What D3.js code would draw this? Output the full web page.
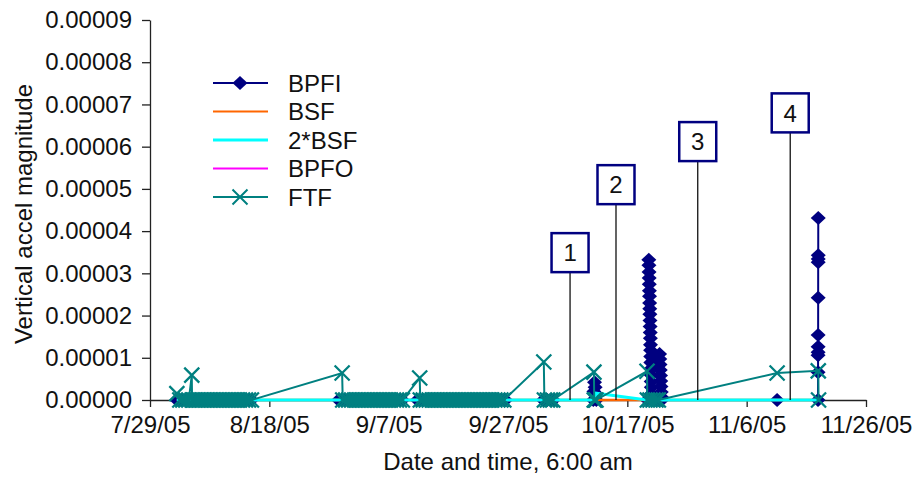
<!DOCTYPE html>
<html>
<head>
<meta charset="utf-8">
<script src="https://cdn.jsdelivr.net/npm/d3@7"></script>
<style>
body{margin:0;background:#fff;}
svg{display:block;font-family:"Liberation Sans",Arial,sans-serif;}
</style>
</head>
<body>
<svg width="912" height="478"></svg>
<script>
// all sample times are days after 7/29/05 (the left end of the axis)
const tickLabels=["7/29/05","8/18/05","9/7/05","9/27/05","10/17/05","11/6/05","11/26/05"];
const tickDays=[0,20,40,60,80,100,120];
const yTicks=[0,0.00001,0.00002,0.00003,0.00004,0.00005,0.00006,0.00007,0.00008,0.00009];

const seriesNames=["BPFI","BSF","2*BSF","BPFO","FTF"];
const seriesColors=["#000080","#ff6600","#00ffff","#ff00ff","#008080"];

const bpfiDays=[
 4.5,5,5.5,6,6.5,7,7.5,8,8.5,9,9.5,10,10.5,11,11.5,12,12.5,13,13.5,14,14.5,15,15.5,16,16.5,17,
 31.6,32.3,32.8,33.3,33.8,34.3,34.8,35.3,35.8,36.3,36.8,37.3,37.8,38.3,38.8,39.3,39.8,40.3,40.8,41.3,41.8,42.3,
 44.8,45.3,45.8,46.3,46.8,47.3,47.8,48.3,48.8,49.3,49.8,50.3,50.8,51.3,51.8,52.3,52.8,53.3,53.8,54.3,54.8,55.3,55.8,56.3,56.8,57.3,57.8,58.3,58.8,59.3,59.6,
 65.9,66.1,66.6,67.1,67.6,
 74.3,74.4,74.5,74.6,74.7,74.8,
 83.35,83.6,83.62,83.64,83.66,83.68,83.7,83.72,83.74,83.76,83.78,83.8,83.82,83.84,83.86,83.88,83.9,83.92,83.94,83.96,83.98,84.0,84.02,84.04,
 84.3,84.8,85.2,85.4,85.44,85.48,85.52,85.56,85.6,85.64,85.68,85.72,85.76,
 105.1,
 111.96,111.964,111.968,111.972,111.976,111.98,111.984,111.988,111.992,111.996,112
];
const bpfiValues=[
 0,0,0,0,0,0,0,0,0,0,0,0,0,0,0,0,0,0,0,0,0,0,0,0,0,0,
 0,0,0,0,0,0,0,0,0,0,0,0,0,0,0,0,0,0,0,0,0,0,
 0,0,0,0,0,0,0,0,0,0,0,0,0,0,0,0,0,0,0,0,0,0,0,0,0,0,0,0,0,0,0,
 0,0,0,0,0,
 0,0.0000020,0.0000042,0.0000030,0.0000012,0,
 0,0.0000332,0.0000319,0.0000303,0.0000289,0.0000274,0.0000259,0.0000246,0.0000230,0.0000216,0.0000203,0.0000188,0.0000174,0.0000160,0.0000146,0.0000131,0.0000118,0.0000103,0.0000089,0.0000074,0.0000059,0.0000044,0.0000030,0.0000015,
 0,0,0,0.0000109,0.0000097,0.0000084,0.0000071,0.0000058,0.0000045,0.0000032,0.0000019,0.0000007,0,
 0,
 0,0.0000066,0.0000106,0.0000113,0.0000126,0.0000154,0.0000242,0.0000326,0.0000334,0.0000343,0.0000431
];

const ftfDays=[
 4.5,5,5.5,6,6.5,7,7.05,7.5,8,8.5,9,9.5,10,10.5,11,11.5,12,12.5,13,13.5,14,14.5,15,15.5,16,16.5,17,
 32.2,32.3,32.8,33.3,33.8,34.3,34.8,35.3,35.8,36.3,36.8,37.3,37.8,38.3,38.8,39.3,39.8,40.3,40.8,41.3,41.8,42.3,
 45.2,45.3,45.8,46.3,46.8,47.3,47.8,48.3,48.8,49.3,49.8,50.3,50.8,51.3,51.8,52.3,52.8,53.3,53.8,54.3,54.8,55.3,55.8,56.3,56.8,57.3,57.8,58.3,58.8,59.3,
 66,66.1,66.6,67.1,67.5,
 74.4,74.45,74.6,74.75,
 83.3,83.35,83.8,84.3,84.8,85.2,
 105.1,112,112.05
];
const ftfValues=[
 0.0000015,0,0,0,0,0.0000059,0,0,0,0,0,0,0,0,0,0,0,0,0,0,0,0,0,0,0,0,0,
 0.0000064,0,0,0,0,0,0,0,0,0,0,0,0,0,0,0,0,0,0,0,0,0,
 0.0000052,0,0,0,0,0,0,0,0,0,0,0,0,0,0,0,0,0,0,0,0,0,0,0,0,0,0,0,0,0,
 0.0000090,0,0,0,0,
 0.0000066,0,0,0,
 0.0000068,0,0,0,0,0,
 0.0000064,0.0000069,0
];

// line-only series, flat at zero apart from the small 2*BSF rise
const bsfDays=[4.5,112];
const bsfValues=[0,0];
const bsf2Days=[4.5,74.7,74.8,83.3,112];
const bsf2Values=[0,0,0.0000016,0,0];
const bpfoDays=[4.5,112];
const bpfoValues=[0,0];

const noteLabels=["1","2","3","4"];
const noteDays=[70.4,78.1,91.8,107.3];
const noteValues=[0.0000349,0.0000510,0.0000612,0.0000680];

const svg=d3.select("svg");
const origin=Date.UTC(2005,6,29);
const toDate=d=>new Date(origin+d*864e5);
const fs="24px";

const x=d3.scaleUtc().domain([toDate(0),toDate(120)]).range([150,866]);
const y=d3.scaleLinear().domain([0,0.00009]).range([400,20]);

const xAxis=svg.append("g").attr("transform","translate(0,400)")
  .call(d3.axisBottom(x).tickValues(tickDays.map(toDate)).tickFormat((d,i)=>tickLabels[i])
    .tickSizeInner(7).tickSizeOuter(0).tickPadding(9));
const yAxis=svg.append("g").attr("transform","translate(150,0)")
  .call(d3.axisLeft(y).tickValues(yTicks).tickFormat(d3.format(".5f"))
    .tickSizeInner(8).tickSizeOuter(0).tickPadding(10));
[xAxis,yAxis].forEach(a=>{
  a.selectAll("path,line").attr("stroke","#222").attr("stroke-width",1.3);
  a.selectAll("text").attr("font-size",fs).attr("fill","#111").attr("font-family","Liberation Sans, Arial, sans-serif");
});

svg.append("text").attr("x",508).attr("y",470).attr("text-anchor","middle")
  .attr("font-size",fs).attr("fill","#111").text("Date and time, 6:00 am");
svg.append("text").attr("transform","translate(32,214) rotate(-90)").attr("text-anchor","middle")
  .attr("font-size",fs).attr("fill","#111").text("Vertical accel magnitude");

const diamond="M0,-7L7.5,0L0,7L-7.5,0Z";
const cross="M-7.5,-7.5L7.5,7.5M7.5,-7.5L-7.5,7.5";
const line=d3.line().x(d=>x(toDate(d[0]))).y(d=>y(d[1]));
const pairs=(ds,vs)=>ds.map((d,i)=>[d,vs[i]]);

const bpfi=pairs(bpfiDays,bpfiValues);
const ftf=pairs(ftfDays,ftfValues);

// BPFI
svg.append("path").datum(bpfi).attr("d",line).attr("fill","none")
  .attr("stroke",seriesColors[0]).attr("stroke-width",2);
svg.append("g").selectAll("path").data(bpfi).join("path")
  .attr("transform",d=>`translate(${x(toDate(d[0]))},${y(d[1])})`)
  .attr("d",diamond).attr("fill",seriesColors[0]);

// BPFO, BSF, 2*BSF
svg.append("path").datum(pairs(bpfoDays,bpfoValues)).attr("d",line).attr("fill","none")
  .attr("stroke",seriesColors[3]).attr("stroke-width",2);
svg.append("path").datum(pairs(bsfDays,bsfValues)).attr("d",line).attr("fill","none")
  .attr("stroke",seriesColors[1]).attr("stroke-width",2.5);
svg.append("path").datum(pairs(bsf2Days,bsf2Values)).attr("d",line).attr("fill","none")
  .attr("stroke",seriesColors[2]).attr("stroke-width",3);

// FTF
svg.append("path").datum(ftf).attr("d",line).attr("fill","none")
  .attr("stroke",seriesColors[4]).attr("stroke-width",2);
svg.append("g").selectAll("path").data(ftf).join("path")
  .attr("transform",d=>`translate(${x(toDate(d[0]))},${y(d[1])})`)
  .attr("d",cross).attr("fill","none").attr("stroke",seriesColors[4]).attr("stroke-width",2.3);

// numbered callouts
const notes=svg.append("g").selectAll("g").data(noteLabels).join("g")
  .attr("transform",(d,i)=>`translate(${x(toDate(noteDays[i]))},${y(noteValues[i])})`);
notes.append("line").attr("x1",0).attr("x2",0).attr("y1",19.5)
  .attr("y2",(d,i)=>y(0)-y(noteValues[i])).attr("stroke","#111").attr("stroke-width",1.3);
notes.append("rect").attr("x",-18.5).attr("y",-19.5).attr("width",37).attr("height",39)
  .attr("fill","#fff").attr("stroke","#000080").attr("stroke-width",2.5);
notes.append("text").attr("text-anchor","middle").attr("dy","0.36em")
  .attr("font-size",fs).attr("fill","#111").text(d=>d);

// legend
const leg=svg.append("g").selectAll("g").data(seriesNames).join("g")
  .attr("transform",(d,i)=>`translate(213,${83+i*28.5})`);
leg.append("line").attr("x1",0).attr("x2",55)
  .attr("stroke",(d,i)=>seriesColors[i]).attr("stroke-width",(d,i)=>i==2?3:2);
leg.filter((d,i)=>i==0).append("path").attr("d",diamond).attr("transform","translate(27,0)").attr("fill",seriesColors[0]);
leg.filter((d,i)=>i==4).append("path").attr("d",cross).attr("transform","translate(27,0)")
  .attr("fill","none").attr("stroke",seriesColors[4]).attr("stroke-width",2);
leg.append("text").attr("x",75).attr("dy","0.36em").attr("font-size",fs).attr("fill","#111").text(d=>d);
</script>
</body>
</html>
